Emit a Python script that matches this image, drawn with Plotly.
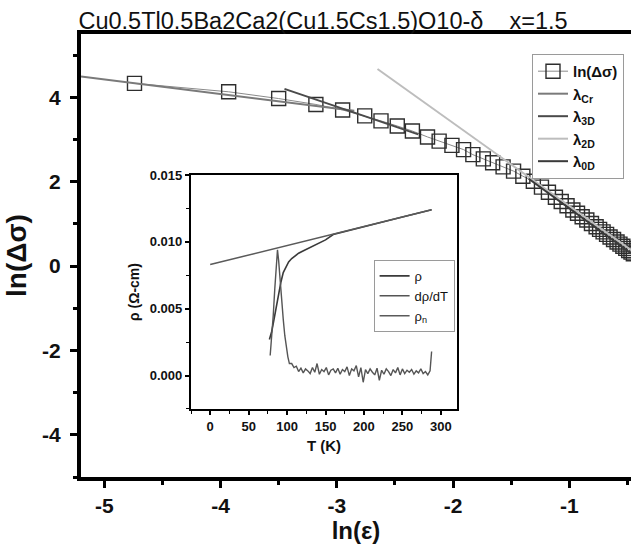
import plotly.graph_objects as go

# ln(Δσ) versus ln(ε) for the x = 1.5 sample
ln_eps = [-4.74, -3.93, -3.50, -3.18, -2.95, -2.76, -2.62, -2.48, -2.35, -2.22,
          -2.12, -2.01, -1.91, -1.83, -1.74, -1.66, -1.57, -1.48, -1.40, -1.31,
          -1.24, -1.18, -1.12, -1.07, -1.02, -0.97, -0.93, -0.89, -0.85, -0.81,
          -0.77, -0.74, -0.71, -0.68, -0.65, -0.62, -0.59, -0.565, -0.54, -0.515,
          -0.49, -0.47, -0.45]
ln_dsigma = [4.33, 4.13, 3.97, 3.83, 3.70, 3.56, 3.44, 3.32, 3.20, 3.06,
             2.96, 2.86, 2.76, 2.64, 2.54, 2.45, 2.35, 2.25, 2.13, 2.01,
             1.87, 1.75, 1.63, 1.53, 1.43, 1.33, 1.25, 1.17, 1.09, 1.01,
             0.93, 0.87, 0.81, 0.75, 0.69, 0.63, 0.57, 0.52, 0.47, 0.42,
             0.37, 0.33, 0.29]

# Straight-line fits of the fluctuation regimes (end points)
fit_cr_x, fit_cr_y = [-5.2, -2.85], [4.49, 3.68]
fit_3d_x, fit_3d_y = [-3.45, -2.30], [4.20, 3.12]
fit_2d_x, fit_2d_y = [-2.65, -0.47], [4.67, 0.38]
fit_0d_x, fit_0d_y = [-1.35, -0.47], [2.07, 0.30]

# Inset: resistivity (in 1e-3 Ω-cm) versus temperature
rho_T = [77, 80, 83, 86, 89, 92, 95, 98, 102, 106, 110, 115, 120, 125, 130,
         140, 150, 160, 200, 250, 288]
rho_v = [2.7, 3.3, 4.2, 5.2, 6.2, 7.0, 7.7, 8.1, 8.5, 8.75, 8.95, 9.15, 9.3,
         9.45, 9.6, 9.85, 10.15, 10.55, 11.15, 11.86, 12.4]

drho_T = [78, 80, 82, 84, 86, 87.5, 89, 91, 93, 95, 97, 99, 101, 103,
          106, 109, 112, 115, 118, 121, 124, 127, 130, 133, 136, 139, 142,
          145, 148, 151, 154, 157, 160, 163, 166, 169, 172, 175, 178, 181,
          184, 187, 190, 193, 196, 199, 202, 205, 208, 211, 214, 217, 220,
          223, 226, 229, 232, 235, 238, 241, 244, 247, 250, 253, 256, 259,
          262, 265, 268, 271, 274, 277, 280, 283, 286, 288]
drho_v = [1.5, 2.8, 4.5, 6.5, 8.5, 9.4, 8.6, 7.0, 5.6, 4.2, 3.0, 2.1, 1.4, 0.9,
          0.9, 0.6, 0.7, 0.3, 0.55, 0.2, 0.5, 0.35, 0.15, 0.6, 0.25, 0.9, 0.1,
          0.45, 0.3, 0.6, 0.05, 0.4, 0.5, 0.2, 0.55, 0.1, 0.45, 0.3, 0.65, 0.0,
          0.5, 0.35, 0.75, -0.1, 0.6, -0.5, 0.45, 0.15, 0.5, 0.25, 0.05, 0.55,
          -0.35, 0.4, 0.1, 0.5, 0.3, 0.0, 0.45, 0.2, 0.6, 0.05, 0.5, 0.15, 0.4,
          0.25, 0.45, 0.1, 0.35, 0.2, 0.5, 0.15, 0.3, 0.05, 0.35, 1.8]

rhon_T = [0, 288]
rhon_v = [8.3, 12.4]

x_ticks = [-5, -4, -3, -2, -1]
x_ticktext = ["-5", "-4", "-3", "-2", "-1"]
y_ticks = [-4, -2, 0, 2, 4]
y_ticktext = ["-4", "-2", "0", "2", "4"]
in_x_ticks = [0, 50, 100, 150, 200, 250, 300]
in_y_ticks = [0.0, 0.005, 0.010, 0.015]
in_y_ticktext = ["0.000", "0.005", "0.010", "0.015"]

FONT = "Liberation Sans"
INK = "#111111"
SPINE = "#000000"

fig = go.Figure()

fig.add_trace(go.Scatter(
    x=ln_eps, y=ln_dsigma, mode="lines+markers", name="ln(Δσ)",
    line=dict(color="#8a8a8a", width=1),
    marker=dict(symbol="square-open", size=14, color="#2e2e2e",
                line=dict(width=1.4, color="#2e2e2e")),
))
fig.add_trace(go.Scatter(x=fit_cr_x, y=fit_cr_y, mode="lines", name="λ<sub>Cr</sub>",
                         line=dict(color="#7a7a7a", width=2)))
fig.add_trace(go.Scatter(x=fit_3d_x, y=fit_3d_y, mode="lines", name="λ<sub>3D</sub>",
                         line=dict(color="#4a4a4a", width=2)))
fig.add_trace(go.Scatter(x=fit_2d_x, y=fit_2d_y, mode="lines", name="λ<sub>2D</sub>",
                         line=dict(color="#bdbdbd", width=2)))
fig.add_trace(go.Scatter(x=fit_0d_x, y=fit_0d_y, mode="lines", name="λ<sub>0D</sub>",
                         line=dict(color="#3a3a3a", width=2)))

# inset traces
fig.add_trace(go.Scatter(x=rho_T, y=[v * 1e-3 for v in rho_v], mode="lines", name="ρ",
                         xaxis="x2", yaxis="y2", legend="legend2",
                         line=dict(color="#3a3a3a", width=1.6)))
fig.add_trace(go.Scatter(x=drho_T, y=[v * 1e-3 for v in drho_v], mode="lines", name="dρ/dT",
                         xaxis="x2", yaxis="y2", legend="legend2",
                         line=dict(color="#555555", width=1.4)))
fig.add_trace(go.Scatter(x=rhon_T, y=[v * 1e-3 for v in rhon_v], mode="lines", name="ρ<sub>n</sub>",
                         xaxis="x2", yaxis="y2", legend="legend2",
                         line=dict(color="#5a5a5a", width=1.6)))

axis_common = dict(showgrid=False, zeroline=False, showline=True, linecolor=SPINE,
                   ticks="outside", tickcolor=SPINE)

fig.update_layout(
    width=631, height=549,
    margin=dict(l=81, r=0, t=34, b=72),
    paper_bgcolor="white", plot_bgcolor="white",
    font=dict(family=FONT, color=INK),
    title=dict(text="Cu0.5Tl0.5Ba2Ca2(Cu1.5Cs1.5)O10-δ    x=1.5",
               x=0.512, xref="container", xanchor="center",
               y=0.963, yref="container", yanchor="middle",
               font=dict(family=FONT, size=23.5, color=INK)),
    xaxis=dict(**axis_common, range=[-5.2, -0.47], linewidth=4, mirror=True,
               tickvals=x_ticks, ticktext=x_ticktext, ticklen=7, tickwidth=3,
               minor=dict(dtick=0.5, ticks="outside", ticklen=4, tickwidth=2.5, tickcolor=SPINE),
               tickfont=dict(size=21, weight="bold", color=INK),
               title=dict(text="ln(ε)", font=dict(size=24, weight="bold", color=INK), standoff=0)),
    yaxis=dict(**axis_common, range=[-5, 5.5], linewidth=4, mirror=False,
               tickvals=y_ticks, ticktext=y_ticktext, ticklen=7, tickwidth=3,
               minor=dict(dtick=1, ticks="outside", ticklen=4, tickwidth=2.5, tickcolor=SPINE),
               tickfont=dict(size=21, weight="bold", color=INK), ticklabelstandoff=5,
               title=dict(text="ln(Δσ)", font=dict(size=28, weight="bold", color=INK), standoff=8)),
    xaxis2=dict(**axis_common, domain=[0.2, 0.6836], anchor="y2", range=[-25, 321],
                linewidth=2.2, mirror=True, tickvals=in_x_ticks, ticklen=4, tickwidth=1.6,
                minor=dict(dtick=25, ticks="outside", ticklen=2.5, tickwidth=1.3, tickcolor=SPINE),
                tickfont=dict(size=13, weight="bold", color=INK),
                title=dict(text="T (K)", font=dict(size=15, weight="bold", color=INK), standoff=8)),
    yaxis2=dict(**axis_common, domain=[0.1535, 0.6817], anchor="x2", range=[-0.0025, 0.015],
                linewidth=2.2, mirror=True, tickvals=in_y_ticks, ticktext=in_y_ticktext,
                ticklen=4, tickwidth=1.6,
                minor=dict(dtick=0.0025, ticks="outside", ticklen=2.5, tickwidth=1.3, tickcolor=SPINE),
                tickfont=dict(size=13, weight="bold", color=INK),
                title=dict(text="ρ (Ω-cm)", font=dict(size=14, weight="bold", color=INK), standoff=7)),
    legend=dict(x=0.82, y=0.955, xanchor="left", yanchor="top",
                bgcolor="white", bordercolor="#9a9a9a", borderwidth=1,
                font=dict(size=15, weight="bold", color=INK), tracegroupgap=0, itemwidth=30),
    legend2=dict(x=0.532, y=0.49, xanchor="left", yanchor="top",
                 bgcolor="white", bordercolor="#9a9a9a", borderwidth=1,
                 font=dict(size=13, color=INK), itemwidth=30),
    showlegend=True,
)

fig.write_html("out.html")
